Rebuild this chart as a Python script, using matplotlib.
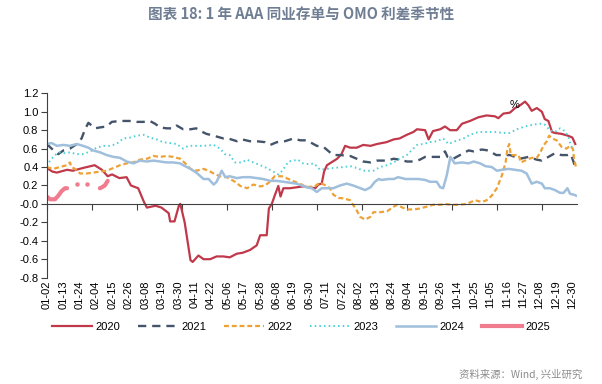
import numpy as np
import matplotlib
matplotlib.use("Agg")
import matplotlib.pyplot as plt
from matplotlib.lines import Line2D

plt.rcParams['font.family'] = ['Liberation Sans Narrow', 'Liberation Sans', 'DejaVu Sans']

# ============================
# Data (x = day index from 01-02)
# ============================
tick_labels = ['01-02', '01-13', '01-24', '02-04', '02-15', '02-26', '03-08', '03-19', '03-30',
               '04-11', '04-22', '05-06', '05-17', '05-28', '06-08', '06-19', '06-30', '07-11',
               '07-22', '08-02', '08-13', '08-24', '09-04', '09-15', '09-26', '10-14', '10-25',
               '11-05', '11-16', '11-27', '12-08', '12-19', '12-30']

x2020 = [0, 4, 7, 14, 18, 25, 33, 38, 42, 45, 50, 55, 58, 63, 67, 69, 75, 79, 84, 85, 88, 91, 92, 95,
         99, 100.5, 104.5, 108, 112.5, 117, 121.7, 126, 131, 135, 140, 144.6, 147, 151.5, 153, 155,
         157, 159.5, 161, 163, 167.5, 172, 176.5, 181, 185, 187, 189.4, 191, 193, 196, 200, 203,
         205.5, 209, 213.5, 218, 223, 227.5, 234, 239, 243, 248, 252.5, 255, 260.6, 263, 266, 271,
         274.3, 277.8, 282.4, 286, 291.5, 297.3, 303, 308.8, 311, 314.5, 319, 322.5, 326, 329.4,
         331.7, 334, 337.5, 341, 343, 345.5, 348, 350, 354.5, 359, 362, 364]
y2020 = [.39, .35, .34, .37, .36, .39, .42, .37, .30, .32, .28, .29, .20, .17, .02, -.04, -.02, -.04,
         -.10, -.19, -.19, -.02, 0.0, -.20, -.61, -.63, -.56, -.60, -.60, -.57, -.57, -.58, -.54,
         -.53, -.50, -.45, -.34, -.34, -.05, 0.0, .09, .195, .08, .17, .17, .18, .19, .18, .17, .21,
         .22, .35, .42, .45, .49, .54, .63, .61, .61, .64, .63, .65, .67, .70, .71, .75, .78, .81,
         .80, .70, .79, .81, .84, .80, .80, .87, .90, .94, .96, .95, .93, .98, .99, 1.04, 1.07, 1.11,
         1.07, 1.01, 1.04, 1.00, .92, .90, .78, .77, .76, .74, .72, .65]

x2021 = [0, 3.4, 8, 11.5, 16, 20.7, 24, 26.4, 28.7, 31, 33.3, 36.7, 41.3, 44.8, 50.5, 57, 62, 66.6,
         71, 74.6, 78, 82.6, 87, 89.5, 94, 99, 103, 106, 110, 115, 121.7, 125, 131, 134.5, 140,
         144.6, 150.4, 154, 158.5, 164, 170, 174.5, 179, 186, 190.5, 195, 197.4, 202, 209, 213.5,
         218, 223, 227.5, 234, 239, 243, 248, 252.5, 257, 260.6, 266, 271, 274.3, 276, 280, 284.6,
         290.5, 294, 299.6, 304, 309.6, 314.5, 319, 326, 331.7, 337.5, 341, 345.5, 350, 354.5, 359,
         361, 364]
y2021 = [.65, .60, .54, .58, .60, .65, .71, .81, .88, .85, .82, .83, .84, .89, .90, .90, .89, .89,
         .90, .87, .83, .82, .82, .85, .81, .81, .82, .79, .76, .74, .71, .71, .68, .70, .68, .68,
         .67, .64, .67, .68, .71, .69, .69, .63, .62, .56, .53, .53, .52, .49, .46, .45, .47, .47,
         .49, .48, .46, .46, .48, .51, .51, .51, .57, .51, .49, .53, .58, .57, .59, .58, .53, .53,
         .53, .49, .51, .48, .47, .51, .55, .53, .53, .54, .40]

x2022 = [0, 4.6, 9, 14, 16, 17, 19.5, 23, 27.5, 32, 36.7, 41.3, 46, 50.5, 55, 59.7, 64, 69, 73.5,
         78, 82.6, 87, 92, 95.4, 99, 103, 108, 111.5, 115, 119.4, 124, 129.7, 133.3, 138, 142.3,
         147, 150.4, 154, 157, 162, 166.5, 171, 175.6, 179, 185, 188, 193, 195, 197.4, 201, 204.4,
         209, 211, 213.5, 215.8, 219.3, 223, 225, 229.6, 234.4, 239, 241.3, 245, 248, 252.5, 257,
         261.7, 266, 271, 274.3, 279, 283.5, 289.3, 295, 299.6, 303, 306.5, 310, 313.5, 316, 317.3,
         318.5, 319.6, 322.5, 325, 326.5, 329.4, 334, 337.5, 340, 342, 344.4, 346, 348, 351.2,
         354.5, 358, 360.4, 362.3, 363.2, 364.5]
y2022 = [.40, .38, .40, .42, .45, .40, .38, .33, .33, .34, .35, .36, .39, .42, .44, .45, .48, .49,
         .52, .51, .52, .51, .49, .44, .38, .36, .38, .36, .33, .30, .29, .24, .195, .17, .21, .19,
         .20, .245, .30, .30, .27, .24, .21, .18, .195, .23, .195, .17, .10, .065, .06, .04, -.01,
         -.07, -.14, -.17, -.14, -.09, -.09, -.08, -.03, -.01, -.04, -.06, -.06, -.05, -.03, -.01,
         -.01, 0.0, -.01, -.01, 0.0, .04, .02, .04, .09, .17, .31, .45, .60, .65, .53, .53, .53,
         .45, .47, .50, .50, .56, .63, .68, .74, .71, .69, .62, .60, .63, .60, .49, .40]

x2023 = [0, 2.3, 5.7, 9, 12.6, 16, 20.7, 25, 30, 34.4, 39, 43.6, 48, 52.8, 57.4, 62, 66.6, 71, 75.8,
         80, 85, 89.5, 94, 97.5, 103, 108, 115, 119.4, 122.7, 126, 129.7, 134.5, 137.8, 142.3, 147,
         151.5, 156, 159.5, 161.6, 164, 166.5, 170, 173, 176.5, 181, 184, 188.3, 193, 197.4, 204.4,
         209, 213.5, 218, 225, 229.6, 234.4, 239, 243, 248, 252.5, 255, 259.4, 264, 268.6, 273,
         276.7, 281.3, 287, 291.5, 297.3, 303, 308.8, 314.5, 319, 323.7, 329.4, 335, 339.6, 343,
         346.5, 350, 353.5, 357, 359.4, 361, 363]
y2023 = [.41, .47, .53, .56, .55, .56, .54, .54, .57, .61, .63, .63, .65, .71, .72, .74, .75, .72,
         .70, .67, .66, .65, .60, .63, .63, .63, .64, .60, .54, .53, .45, .45, .48, .45, .42, .39,
         .35, .32, .35, .40, .46, .47, .48, .44, .43, .44, .37, .38, .39, .40, .41, .39, .36, .36,
         .40, .42, .45, .49, .53, .60, .64, .65, .67, .68, .71, .65, .68, .71, .75, .78, .78, .78,
         .77, .77, .81, .84, .86, .87, .86, .80, .78, .82, .79, .72, .63, .58]

x2024 = [0, 3.4, 7, 11.5, 16, 20.7, 25, 28.7, 32, 36.7, 41.3, 46, 50.5, 55, 59.7, 64.3, 69, 73.5,
         78, 82.6, 87, 91.8, 94, 99, 103, 108, 111.5, 115, 117, 120.5, 123, 126, 131, 135, 140,
         144.6, 149, 154, 158.5, 163, 167.5, 172, 176.5, 179, 182.5, 186, 189.4, 193, 197.4, 202,
         206.6, 211, 216, 219.3, 223, 226, 228.6, 230.7, 235.3, 239, 242, 247, 251.4, 256, 260.6,
         264, 268.6, 271, 273, 275.5, 278, 281, 286, 290.5, 294, 298.5, 302, 306.5, 310, 313.4,
         318, 322.5, 327, 330.5, 334, 337.5, 341, 343, 346.5, 350, 353.5, 356, 358.6, 360.4, 363,
         364.5]
y2024 = [.65, .66, .63, .64, .63, .65, .63, .61, .58, .56, .53, .51, .50, .46, .44, .47, .46, .47,
         .46, .45, .45, .44, .42, .38, .34, .27, .27, .21, .24, .36, .29, .30, .28, .29, .29, .28,
         .27, .25, .25, .24, .23, .22, .195, .18, .17, .13, .17, .17, .17, .20, .22, .20, .17, .15,
         .18, .24, .27, .26, .27, .27, .29, .27, .27, .27, .26, .24, .24, .18, .17, .31, .51, .44,
         .45, .44, .46, .44, .41, .40, .36, .37, .38, .37, .36, .33, .22, .24, .22, .17, .17, .15,
         .12, .12, .17, .11, .10, .09]

x2025 = [0, 2.3, 5.7, 8, 10.3, 12.6, 14, 17, 20.7, 24, 27.8, 31, 36.6, 38, 40, 42]
y2025 = [.08, .05, .05, .09, .14, .17, .17, np.nan, .22, np.nan, .22, np.nan, .17, .18, .20, .25]

years = ['2020', '2021', '2022', '2023', '2024', '2025']
colors = ['#c0394b', '#44546a', '#eea236', '#4dd0d8', '#9fbfdc', '#f07c8e']

# ============================
# Plot
# ============================
fig = plt.figure(figsize=(6.02, 3.84), dpi=100)
ax = fig.add_axes([0.0776, 0.277, 0.8804, 0.480])

ax.plot(x2020, y2020, color=colors[0], lw=1.6)
ax.plot(x2021, y2021, color=colors[1], lw=1.7, linestyle=(0, (3.5, 2.5)))
ax.plot(x2022, y2022, color=colors[2], lw=1.6, linestyle=(0, (2.2, 1.3)))
ax.plot(x2023, y2023, color=colors[3], lw=1.4, linestyle=(0, (0.8, 1.6)))
ax.plot(x2024, y2024, color=colors[4], lw=1.8)
ax.plot(x2025, y2025, color=colors[5], lw=3.0, solid_capstyle='round')
# isolated 2025 points (shown as dots)
y25 = np.array(y2025, dtype=float)
for i in range(1, len(y25) - 1):
    if np.isnan(y25[i - 1]) and np.isnan(y25[i + 1]):
        ax.plot([x2025[i]], [y25[i]], 'o', color=colors[5], ms=3.2, mec='none')

ax.set_xlim(0, 365)
ax.set_ylim(-0.8, 1.2)
yt = np.arange(-0.8, 1.21, 0.2)
ax.set_yticks(yt)
ax.set_yticklabels([f'{v:.1f}' for v in yt], fontsize=8)

for s in ['top', 'right']:
    ax.spines[s].set_visible(False)
ax.spines['bottom'].set_position(('data', 0))
ax.spines['bottom'].set_color('#404040')
ax.spines['left'].set_color('#404040')
ax.set_xticks(np.arange(0, 365, 31))
ax.tick_params(axis='x', length=4, color='#404040', labelbottom=False)
ax.tick_params(axis='y', length=4, color='#404040', pad=2)

# category labels sit at the bottom edge of the plot
sec = ax.secondary_xaxis(0)
sec.set_xticks(np.linspace(0, 362, len(tick_labels)))
sec.set_xticklabels(tick_labels, rotation=90, fontsize=8)
sec.tick_params(length=0, pad=2)
sec.spines['bottom'].set_visible(False)

fig.text(0.855, 0.727, '%', fontsize=8, ha='center', va='center')

handles = [
    Line2D([], [], color=colors[0], lw=1.6),
    Line2D([], [], color=colors[1], lw=1.7, linestyle=(0, (3.5, 2.5))),
    Line2D([], [], color=colors[2], lw=1.6, linestyle=(0, (2.2, 1.3))),
    Line2D([], [], color=colors[3], lw=1.4, linestyle=(0, (0.8, 1.6))),
    Line2D([], [], color=colors[4], lw=1.8),
    Line2D([], [], color=colors[5], lw=3.0),
]
fig.legend(handles, years, loc='center', bbox_to_anchor=(0.5, 0.148), ncol=6, frameon=False,
           fontsize=8, handlelength=3.6, columnspacing=1.6, handletextpad=0.3)

fig.text(0.5, 0.965, '图表 18: 1 年 AAA 同业存单与 OMO 利差季节性', ha='center', va='center',
         fontsize=10.5, fontweight='bold', color='#6f7e93',
         family=['Noto Sans CJK SC', 'DejaVu Sans'])
fig.text(0.968, 0.026, '资料来源：Wind, 兴业研究', ha='right', va='center', fontsize=7.5,
         color='#8c8c8c', family=['Noto Sans CJK SC', 'DejaVu Sans'])

fig.savefig('out.png', dpi=100)
